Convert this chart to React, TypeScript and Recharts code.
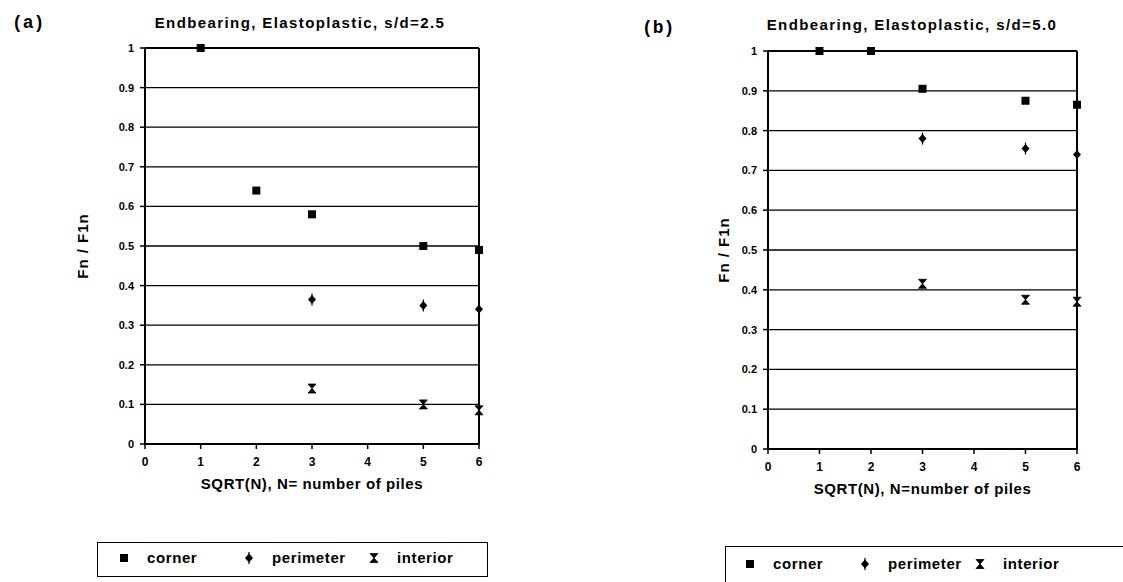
import React from "react";
import {
  ScatterChart,
  Scatter,
  XAxis,
  YAxis,
  CartesianGrid,
  ReferenceLine,
  Legend,
} from "recharts";

// SQRT(N) positions and tick labels
const xTicks = [0, 1, 2, 3, 4, 5, 6];
const yTicks = [0, 0.1, 0.2, 0.3, 0.4, 0.5, 0.6, 0.7, 0.8, 0.9, 1];
const cornerX = [1, 2, 3, 5, 6];
const edgeX = [3, 5, 6];

// (a) s/d = 2.5
const cornerA = [1.0, 0.64, 0.58, 0.5, 0.49];
const perimeterA = [0.365, 0.35, 0.34];
const interiorA = [0.14, 0.1, 0.085];

// (b) s/d = 5.0
const cornerB = [1.0, 1.0, 0.905, 0.875, 0.865];
const perimeterB = [0.78, 0.755, 0.74];
const interiorB = [0.415, 0.375, 0.37];

const FONT = "'Liberation Sans', Arial, sans-serif";

const pts = (xs: number[], ys: number[]) => xs.map((x, i) => ({ x, y: ys[i] }));

const Square = (p: any) => (
  <rect x={p.cx - 4} y={p.cy - 4} width={8} height={8} fill="#000" />
);

const Diamond = (p: any) => {
  const { cx, cy } = p;
  return (
    <g>
      <path d={`M${cx} ${cy - 4.5} L${cx + 4} ${cy} L${cx} ${cy + 4.5} L${cx - 4} ${cy} Z`} fill="#000" />
      <line x1={cx} y1={cy - 6} x2={cx} y2={cy + 6} stroke="#000" strokeWidth={1.2} />
    </g>
  );
};

const Hourglass = (p: any) => {
  const { cx, cy } = p;
  return (
    <path
      d={`M${cx - 4} ${cy - 4.5} H${cx + 4} L${cx - 4} ${cy + 4.5} H${cx + 4} Z`}
      fill="#000"
      stroke="#000"
      strokeWidth={0.8}
    />
  );
};

const LegendBox = ({ width, height, textY, step, first }: any) => {
  const items = [
    { name: "corner", Mark: Square },
    { name: "perimeter", Mark: Diamond },
    { name: "interior", Mark: Hourglass },
  ];
  return (
    <div
      style={{
        position: "relative",
        width,
        height,
        border: "1.5px solid #000",
        boxSizing: "border-box",
        background: "#fff",
      }}
    >
      {items.map((it, i) => {
        const mx = first + i * step;
        return (
          <React.Fragment key={it.name}>
            <svg
              width={16}
              height={16}
              style={{ position: "absolute", left: mx - 8, top: textY - 8 }}
            >
              <it.Mark cx={8} cy={8} />
            </svg>
            <span
              style={{
                position: "absolute",
                left: mx + 23,
                top: textY - 9,
                lineHeight: "18px",
                fontFamily: FONT,
                fontWeight: 700,
                fontSize: 15,
                letterSpacing: 0.6,
                color: "#000",
                whiteSpace: "nowrap",
              }}
            >
              {it.name}
            </span>
          </React.Fragment>
        );
      })}
    </div>
  );
};

function Panel({
  corner,
  perimeter,
  interior,
  width,
  margin,
  xLabel,
  yLabelOffset,
  legend,
}: any) {
  const tickStyle = { fontFamily: FONT, fontWeight: 700, fill: "#000" };
  return (
    <ScatterChart width={width} height={582} margin={margin}>
      <CartesianGrid horizontal vertical={false} stroke="#000" strokeWidth={1.3} strokeDasharray="none" />
      <XAxis
        type="number"
        dataKey="x"
        domain={[0, 6]}
        ticks={xTicks}
        interval={0}
        height={30}
        tickSize={5}
        tickMargin={8}
        axisLine={{ stroke: "#000", strokeWidth: 2 }}
        tickLine={{ stroke: "#000", strokeWidth: 1.5 }}
        tick={{ ...tickStyle, fontSize: 12 }}
        label={{
          value: xLabel,
          position: "bottom",
          offset: 4,
          style: { fontFamily: FONT, fontWeight: 700, fontSize: 15, letterSpacing: 0.6, fill: "#000" },
        }}
      />
      <YAxis
        type="number"
        dataKey="y"
        domain={[0, 1]}
        ticks={yTicks}
        interval={0}
        width={40}
        tickSize={5}
        tickMargin={6}
        axisLine={{ stroke: "#000", strokeWidth: 2 }}
        tickLine={{ stroke: "#000", strokeWidth: 1.5 }}
        tick={{ ...tickStyle, fontSize: 11 }}
        label={{
          value: "Fn / F1n",
          angle: -90,
          position: "left",
          offset: yLabelOffset,
          style: { fontFamily: FONT, fontWeight: 700, fontSize: 15, letterSpacing: 1, fill: "#000", textAnchor: "middle" },
        }}
      />
      <ReferenceLine x={6} stroke="#000" strokeWidth={2} />
      <ReferenceLine y={1} stroke="#000" strokeWidth={2} />
      <Scatter name="corner" data={pts(cornerX, corner)} shape={Square} isAnimationActive={false} />
      <Scatter name="perimeter" data={pts(edgeX, perimeter)} shape={Diamond} isAnimationActive={false} />
      <Scatter name="interior" data={pts(edgeX, interior)} shape={Hourglass} isAnimationActive={false} />
      <Legend
        layout="horizontal"
        verticalAlign="middle"
        align="center"
        wrapperStyle={{ left: legend.left, top: legend.top, width: legend.width, height: legend.height }}
        content={() => <LegendBox {...legend} />}
      />
    </ScatterChart>
  );
}

const titleStyle: React.CSSProperties = {
  position: "absolute",
  width: 400,
  textAlign: "center",
  fontFamily: FONT,
  fontWeight: 700,
  fontSize: 15,
  letterSpacing: 1.4,
  lineHeight: "18px",
  color: "#000",
  whiteSpace: "nowrap",
};

const tagStyle: React.CSSProperties = {
  position: "absolute",
  fontFamily: "'Liberation Mono', 'Courier New', monospace",
  fontWeight: 700,
  fontSize: 18,
  lineHeight: "20px",
  color: "#000",
};

export default function App() {
  return (
    <div
      style={{
        position: "absolute",
        left: 0,
        top: 0,
        width: 1123,
        height: 582,
        background: "#fff",
        overflow: "hidden",
      }}
    >
      <div style={{ ...tagStyle, left: 12, top: 13 }}>(a)</div>
      <div style={{ ...titleStyle, left: 100, top: 14 }}>Endbearing, Elastoplastic, s/d=2.5</div>
      <div style={{ position: "absolute", left: 0, top: 0 }}>
        <Panel
          corner={cornerA}
          perimeter={perimeterA}
          interior={interiorA}
          width={560}
          margin={{ top: 48, right: 81, bottom: 108, left: 105 }}
          xLabel="SQRT(N), N= number of piles"
          yLabelOffset={22}
          legend={{ left: 97, top: 542, width: 391, height: 35, textY: 15, step: 125, first: 26 }}
        />
      </div>

      <div style={{ ...tagStyle, left: 642, top: 18 }}>(b)</div>
      <div style={{ ...titleStyle, left: 712, top: 16 }}>Endbearing, Elastoplastic, s/d=5.0</div>
      <div style={{ position: "absolute", left: 560, top: 0 }}>
        <Panel
          corner={cornerB}
          perimeter={perimeterB}
          interior={interiorB}
          width={563}
          margin={{ top: 51, right: 46, bottom: 103, left: 168 }}
          xLabel="SQRT(N), N=number of piles"
          yLabelOffset={4}
          legend={{ left: 165, top: 546, width: 420, height: 45, textY: 17, step: 115, first: 24 }}
        />
      </div>
    </div>
  );
}
